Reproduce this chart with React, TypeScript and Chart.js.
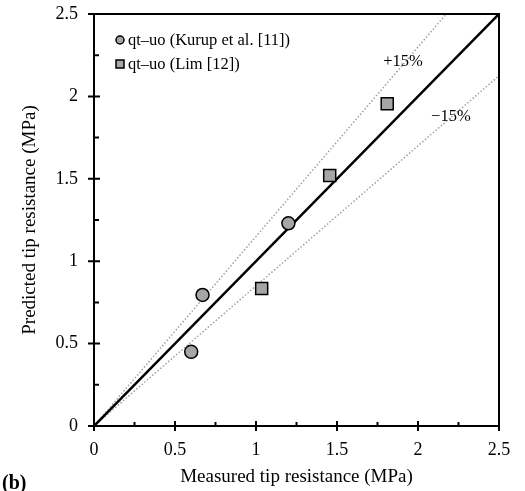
import React, { useEffect, useRef } from "react";
import { Chart, registerables } from "chart.js";

Chart.register(...registerables);

const kurupMeasured = [0.6, 0.67, 1.2];
const kurupPredicted = [0.45, 0.795, 1.23];
const limMeasured = [1.035, 1.455, 1.81];
const limPredicted = [0.835, 1.52, 1.955];
const seriesLabels = ["qt\u2013uo (Kurup et al. [11])", "qt\u2013uo (Lim [12])"];
const axisMin = 0;
const axisMax = 2.5;
const tickValues = [0, 0.5, 1, 1.5, 2, 2.5];
const tickLabels = ["0", "0.5", "1", "1.5", "2", "2.5"];
const minorTickValues = [0.25, 0.75, 1.25, 1.75, 2.25];
const boundRatios = [1.15, 0.85];
const boundLabels = ["+15%", "\u221215%"];
const boundLabelX = [1.907, 2.203];
const boundLabelY = [2.208, 1.88];

const SERIF = "'Liberation Serif', 'Times New Roman', serif";

const overlayPlugin = {
  id: "overlay",
  afterDatasetsDraw(chart: any) {
    const { ctx, chartArea, scales } = chart;
    const { left, right, top, bottom } = chartArea;
    const xs = scales.x;
    const ys = scales.y;
    ctx.save();
    ctx.strokeStyle = "#000";
    ctx.lineWidth = 2;
    ctx.beginPath();
    ctx.rect(left, top, right - left, bottom - top);
    ctx.stroke();
    ctx.lineWidth = 2;
    ctx.beginPath();
    tickValues.forEach((v) => {
      const px = xs.getPixelForValue(v);
      ctx.moveTo(px, bottom - 5);
      ctx.lineTo(px, bottom + 5);
      const py = ys.getPixelForValue(v);
      ctx.moveTo(left - 6, py);
      ctx.lineTo(left + 6, py);
    });
    minorTickValues.forEach((v) => {
      const px = xs.getPixelForValue(v);
      ctx.moveTo(px, bottom - 4);
      ctx.lineTo(px, bottom);
      const py = ys.getPixelForValue(v);
      ctx.moveTo(left, py);
      ctx.lineTo(left + 5, py);
    });
    ctx.stroke();

    ctx.fillStyle = "#000";
    ctx.font = `16.5px ${SERIF}`;
    ctx.textAlign = "center";
    ctx.textBaseline = "middle";
    boundLabels.forEach((t, i) => {
      ctx.fillText(t, xs.getPixelForValue(boundLabelX[i]), ys.getPixelForValue(boundLabelY[i]));
    });

    const ds = chart.data.datasets;
    const legendX = 120;
    const rows = [40, 64];
    ctx.textAlign = "left";
    [0, 1].forEach((i) => {
      const y = rows[i];
      ctx.fillStyle = ds[i].backgroundColor;
      ctx.strokeStyle = "#000";
      ctx.lineWidth = 1.5;
      ctx.beginPath();
      if (ds[i].pointStyle === "circle") {
        ctx.arc(legendX, y, 4, 0, Math.PI * 2);
      } else {
        ctx.rect(legendX - 4, y - 4, 8, 8);
      }
      ctx.fill();
      ctx.stroke();
      ctx.fillStyle = "#000";
      ctx.fillText(ds[i].label, legendX + 8, y + 1);
    });

    ctx.font = `bold 20px ${SERIF}`;
    ctx.textAlign = "left";
    ctx.textBaseline = "middle";
    ctx.fillText("(b)", 2, 484);
    ctx.restore();
  },
};

export default function App() {
  const ref = useRef<HTMLCanvasElement>(null);
  useEffect(() => {
    document.body.style.margin = "0";
    const canvas = ref.current!;
    const kurup = kurupMeasured.map((x, i) => ({ x, y: kurupPredicted[i] }));
    const lim = limMeasured.map((x, i) => ({ x, y: limPredicted[i] }));
    const line = (r: number) => [
      { x: axisMin, y: axisMin * r },
      { x: axisMax, y: axisMax * r },
    ];
    const chart = new Chart(canvas, {
      type: "scatter",
      data: {
        datasets: [
          {
            label: seriesLabels[0],
            data: kurup,
            pointStyle: "circle",
            pointRadius: 6.5,
            backgroundColor: "#a6a6a6",
            borderColor: "#000",
            borderWidth: 1.5,
          },
          {
            label: seriesLabels[1],
            data: lim,
            pointStyle: "rect",
            pointRadius: 8.5,
            backgroundColor: "#a6a6a6",
            borderColor: "#000",
            borderWidth: 1.5,
          },
          {
            label: "1:1",
            data: line(1),
            showLine: true,
            pointRadius: 0,
            borderColor: "#000",
            borderWidth: 2.5,
          },
          {
            label: "+15%",
            data: line(boundRatios[0]),
            showLine: true,
            pointRadius: 0,
            borderColor: "#a0a0a0",
            borderWidth: 1.5,
            borderDash: [1.5, 2],
          },
          {
            label: "-15%",
            data: line(boundRatios[1]),
            showLine: true,
            pointRadius: 0,
            borderColor: "#a0a0a0",
            borderWidth: 1.5,
            borderDash: [1.5, 2],
          },
        ] as any,
      },
      options: {
        animation: false,
        responsive: false,
        maintainAspectRatio: false,
        devicePixelRatio: 1,
        layout: { padding: { left: 0, right: 26, top: 14, bottom: 0 } },
        plugins: { legend: { display: false }, tooltip: { enabled: false } },
        scales: {
          x: {
            type: "linear",
            min: axisMin,
            max: axisMax,
            afterBuildTicks: (s: any) => {
              s.ticks = tickValues.map((v) => ({ value: v }));
            },
            afterFit: (s: any) => {
              s.height = 65;
              s.paddingLeft = 0;
              s.paddingRight = 0;
            },
            grid: { display: false, drawTicks: false },
            border: { display: false },
            ticks: {
              color: "#000",
              font: { family: SERIF, size: 18 },
              padding: 13,
              maxRotation: 0,
              callback: (v: any) => tickLabels[tickValues.indexOf(Number(v))] ?? "",
            },
            title: {
              display: true,
              text: "Measured tip resistance (MPa)",
              color: "#000",
              font: { family: SERIF, size: 19 },
              padding: { top: 0, bottom: 3 },
            },
          },
          y: {
            type: "linear",
            min: axisMin,
            max: axisMax,
            afterBuildTicks: (s: any) => {
              s.ticks = tickValues.map((v) => ({ value: v }));
            },
            afterFit: (s: any) => {
              s.width = 94;
              s.paddingTop = 0;
              s.paddingBottom = 0;
            },
            grid: { display: false, drawTicks: false },
            border: { display: false },
            ticks: {
              color: "#000",
              font: { family: SERIF, size: 18 },
              padding: 16,
              callback: (v: any) => tickLabels[tickValues.indexOf(Number(v))] ?? "",
            },
            title: {
              display: true,
              text: "Predicted tip resistance (MPa)",
              color: "#000",
              font: { family: SERIF, size: 19 },
              padding: { top: 19, bottom: 0 },
            },
          },
        },
      } as any,
      plugins: [overlayPlugin],
    });
    return () => chart.destroy();
  }, []);
  return (
    <div style={{ width: 525, height: 491 }}>
      <canvas ref={ref} width={525} height={491} style={{ width: 525, height: 491, display: "block" }} />
    </div>
  );
}
